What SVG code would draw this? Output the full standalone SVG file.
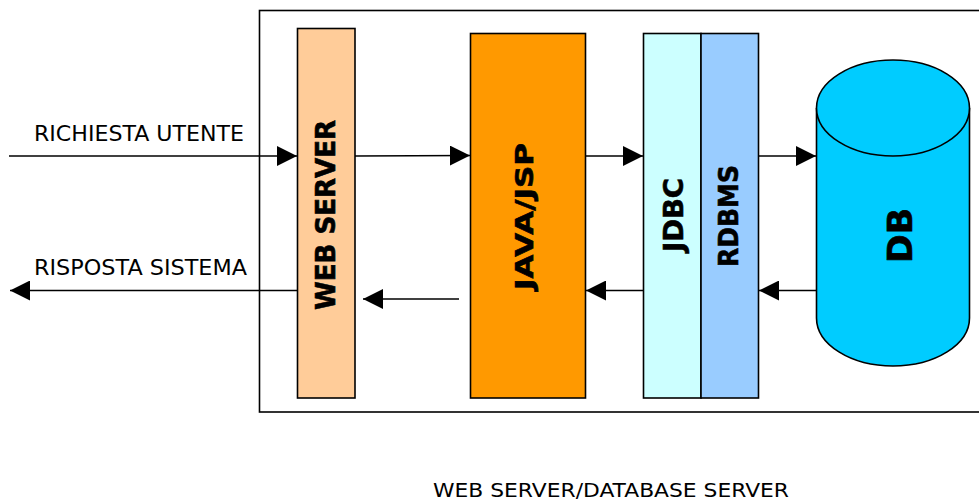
<svg xmlns="http://www.w3.org/2000/svg" width="979" height="503" viewBox="0 0 979 503">
  <style>
    .box { stroke: #000; stroke-width: 1.6; }
    .conn { stroke: #000; stroke-width: 1.6; fill: none; marker-end: url(#arrow); }
    .lbl { font-family: "DejaVu Sans", Verdana, sans-serif; fill: #000; }
    .vert { font-family: "DejaVu Sans", Verdana, sans-serif; font-weight: bold; fill: #000; text-anchor: middle; stroke: #000; stroke-width: 0.6; }
  </style>
  <defs>
    <marker id="arrow" markerUnits="userSpaceOnUse" markerWidth="20" markerHeight="20" refX="20" refY="10" orient="auto" viewBox="0 0 20 20">
      <path d="M0,0 L20,10 L0,20 z" fill="#000"/>
    </marker>
  </defs>

  <rect width="979" height="503" fill="#fff"/>

  <!-- server boundary -->
  <g id="server">
    <rect x="259.5" y="10.5" width="740" height="401.5" fill="none" stroke="#000" stroke-width="1.6"/>
  </g>

  <g id="web-server">
    <rect class="box" x="297.5" y="28.5" width="57.5" height="369.5" fill="#FFCC99"/>
    <text class="vert" transform="translate(325,215) rotate(-90)" y="10" font-size="27" textLength="190" lengthAdjust="spacingAndGlyphs">WEB SERVER</text>
  </g>

  <g id="java-jsp">
    <rect class="box" x="470.5" y="33.5" width="115" height="364.5" fill="#FF9900"/>
    <text class="vert" transform="translate(524,216.5) rotate(-90)" y="9" font-size="25" textLength="147" lengthAdjust="spacingAndGlyphs">JAVA/JSP</text>
  </g>

  <g id="jdbc">
    <rect class="box" x="643.5" y="33.5" width="57.5" height="364.5" fill="#CCFFFF"/>
    <text class="vert" transform="translate(672.5,215) rotate(-90)" y="10" font-size="27" textLength="74" lengthAdjust="spacingAndGlyphs">JDBC</text>
  </g>

  <g id="rdbms">
    <rect class="box" x="701" y="33.5" width="57.5" height="364.5" fill="#99CCFF"/>
    <text class="vert" transform="translate(728,216) rotate(-90)" y="10" font-size="27" textLength="102" lengthAdjust="spacingAndGlyphs">RDBMS</text>
  </g>

  <g id="db">
    <path class="box" d="M816.5,108 L816.5,318 A76.5,48 0 0 0 969.5,318 L969.5,108" fill="#00CCFF"/>
    <ellipse class="box" cx="893" cy="108" rx="76.5" ry="48" fill="#00CCFF"/>
    <text class="vert" transform="translate(899.5,235.5) rotate(-90)" y="12.5" font-size="34" textLength="55" lengthAdjust="spacingAndGlyphs">DB</text>
  </g>

  <g id="connectors">
    <line class="conn" x1="9" y1="156" x2="297" y2="156"/>
    <line class="conn" x1="355" y1="156" x2="470" y2="155.5"/>
    <line class="conn" x1="585.5" y1="156" x2="643" y2="156"/>
    <line class="conn" x1="758.5" y1="156" x2="816" y2="156"/>
    <line class="conn" x1="816" y1="290.5" x2="759" y2="290.5"/>
    <line class="conn" x1="643" y1="290.5" x2="586" y2="290.5"/>
    <line class="conn" x1="459" y1="299" x2="363" y2="299"/>
    <line class="conn" x1="297" y1="290.5" x2="10" y2="290.5"/>
  </g>

  <g id="labels">
    <text class="lbl" x="34" y="141" font-size="21" textLength="210" lengthAdjust="spacingAndGlyphs">RICHIESTA UTENTE</text>
    <text class="lbl" x="34" y="275" font-size="21" textLength="213" lengthAdjust="spacingAndGlyphs">RISPOSTA SISTEMA</text>
    <text class="lbl" x="433" y="497" font-size="20" textLength="356" lengthAdjust="spacingAndGlyphs">WEB SERVER/DATABASE SERVER</text>
  </g>
</svg>
